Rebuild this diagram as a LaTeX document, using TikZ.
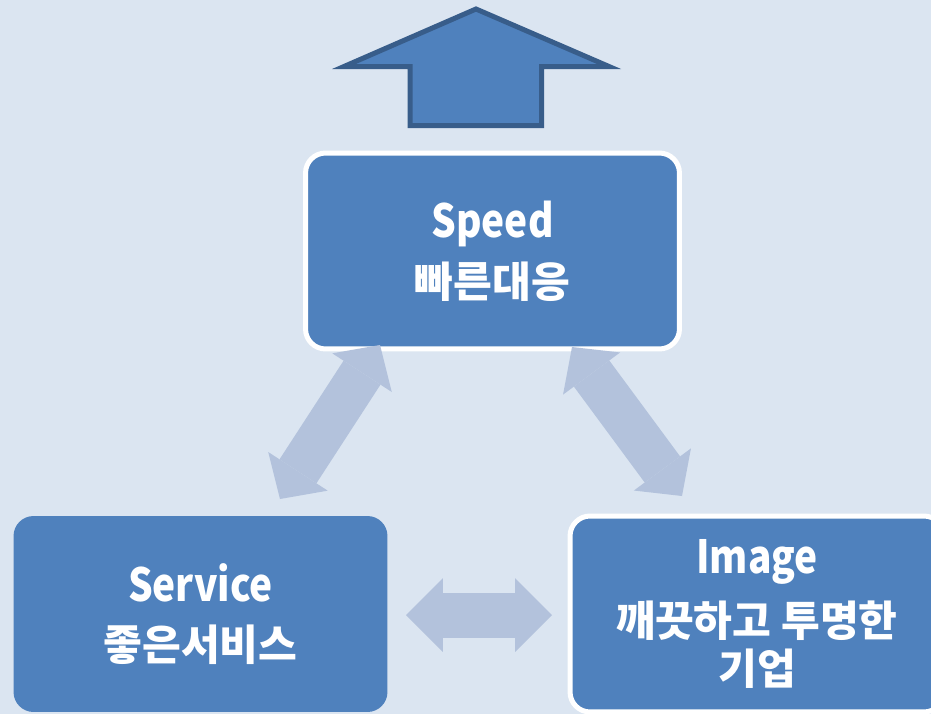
\documentclass[tikz,border=0pt]{standalone}
\usepackage{fontspec}
\setmainfont{Noto Sans CJK KR}
\usepackage{tikz}
\usetikzlibrary{arrows.meta, positioning}
\definecolor{bgblue}{RGB}{219,229,241}
\definecolor{boxblue}{RGB}{79,129,189}
\definecolor{edgeblue}{RGB}{56,93,138}
\definecolor{linkblue}{RGB}{179,194,220}
\newcommand{\eng}[1]{{\fontsize{26}{30}\selectfont\scalebox{0.85}[1]{#1}}}
\tikzset{
  card/.style={rectangle, fill=boxblue, text=white, align=center,
    minimum width=7.48cm, minimum height=3.92cm, rounded corners=0.4cm,
    font=\bfseries\fontsize{24}{27}\selectfont},
  cardedge/.style={draw=white, line width=0.1cm},
  link/.style={color=linkblue, line width=0.88cm,
    {Triangle[length=0.66cm, width=1.42cm, line width=0pt]}-{Triangle[length=0.66cm, width=1.42cm, line width=0pt]}},
  flatlink/.style={color=linkblue, line width=0.9cm,
    {Triangle[length=0.74cm, width=1.48cm, line width=0pt]}-{Triangle[length=0.74cm, width=1.48cm, line width=0pt]}},
  uparrow/.style={draw=edgeblue, fill=boxblue, line width=0.1cm}
}
\begin{document}
\begin{tikzpicture}[x=0.02cm, y=-0.02cm]
  % Background
  \useasboundingbox (0,0) rectangle (931,714);
  \clip (0,0) rectangle (931,714);
  \fill[bgblue] (0,0) rectangle (931,714);
  % Up arrow
  \draw[uparrow] (476,9) -- (609,66.5) -- (541.5,66.5) -- (541.5,125.5)
    -- (410,125.5) -- (410,66.5) -- (344,66.5) -- cycle;
  % Boxes
  \node[card, cardedge] (speed) at (492.5,251) {\eng{Speed}\\[7pt]빠른대응};
  \node[card] (service) at (200.5,614) {\eng{Service}\\[7pt]좋은서비스};
  \node[card, cardedge] (image) at (757,614) {\eng{Image}\\[9pt]깨끗하고 투명한\\기업};
  % Links
  \coordinate (speed-l) at (380,345);
  \coordinate (service-t) at (280,499);
  \coordinate (speed-r) at (572,347);
  \coordinate (image-t) at (682,496);
  \coordinate (service-r) at (406,615);
  \coordinate (image-l) at (552,615);
  \draw[link] (speed-l) -- (service-t);
  \draw[link] (speed-r) -- (image-t);
  \draw[flatlink] (service-r) -- (image-l);
\end{tikzpicture}
\end{document}
